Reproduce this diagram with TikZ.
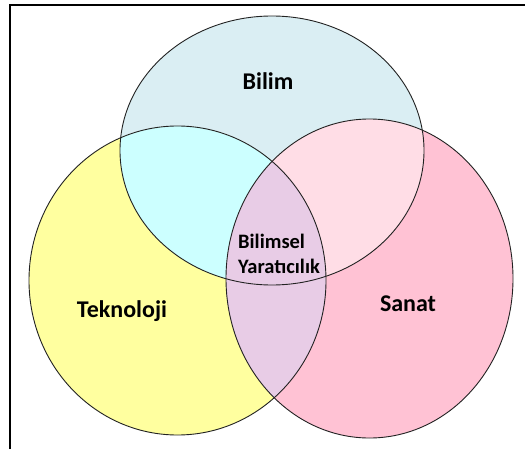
\documentclass[tikz,border=0pt]{standalone}
\usepackage{fontspec}
\setmainfont{Carlito}
\definecolor{bilimc}{HTML}{DAEEF3}
\definecolor{teknc}{HTML}{FFFF9F}
\definecolor{sanatc}{HTML}{FFC2D4}
\definecolor{btc}{HTML}{CCFFFF}
\definecolor{bsc}{HTML}{FFDDE6}
\definecolor{tsc}{HTML}{E8CCE6}
\definecolor{edgec}{HTML}{222222}
\tikzset{
  lbl/.style={font=\fontsize{24}{28}\selectfont\bfseries, inner sep=0pt, text=black},
  small/.style={font=\fontsize{20.5}{25}\selectfont\bfseries, inner sep=0pt, text=black, anchor=base west},
  outline/.style={draw=edgec, line width=0.9pt},
}
\begin{document}
\begin{tikzpicture}[x=1pt,y=-1pt]
\useasboundingbox (0,0) rectangle (526,449);
\fill[white] (0,0) rectangle (526,449);
% base fills
\fill[bilimc] (272,150.5) ellipse [x radius=152pt, y radius=134.5pt];
\fill[teknc] (177.5,280.5) ellipse [x radius=148.5pt, y radius=154.5pt];
\fill[sanatc] (369.5,278.5) ellipse [x radius=143.5pt, y radius=159.5pt];
% overlaps
\begin{scope}
  \clip (272,150.5) ellipse [x radius=152pt, y radius=134.5pt];
  \fill[btc] (177.5,280.5) ellipse [x radius=148.5pt, y radius=154.5pt];
  \fill[bsc] (369.5,278.5) ellipse [x radius=143.5pt, y radius=159.5pt];
\end{scope}
\begin{scope}
  \clip (177.5,280.5) ellipse [x radius=148.5pt, y radius=154.5pt];
  \fill[tsc] (369.5,278.5) ellipse [x radius=143.5pt, y radius=159.5pt];
\end{scope}
% outlines
\draw[outline] (272,150.5) ellipse [x radius=152pt, y radius=134.5pt];
\draw[outline] (177.5,280.5) ellipse [x radius=148.5pt, y radius=154.5pt];
\draw[outline] (369.5,278.5) ellipse [x radius=143.5pt, y radius=159.5pt];
% frame
\draw[line width=1.2pt] (10,449) -- (10,5) -- (525,5);
% labels
\node[lbl, anchor=base] (bilim) at (268,90) {Bilim};
\node[lbl, anchor=base] (tekno) at (122,317) {Teknoloji};
\node[lbl, anchor=base] (sanat) at (408,311) {Sanat};
\node[small] (bil1) at (238,248.3) {Bilimsel};
\node[small] (bil2) at (238,273.3) {Yaratıcılık};
\end{tikzpicture}
\end{document}
